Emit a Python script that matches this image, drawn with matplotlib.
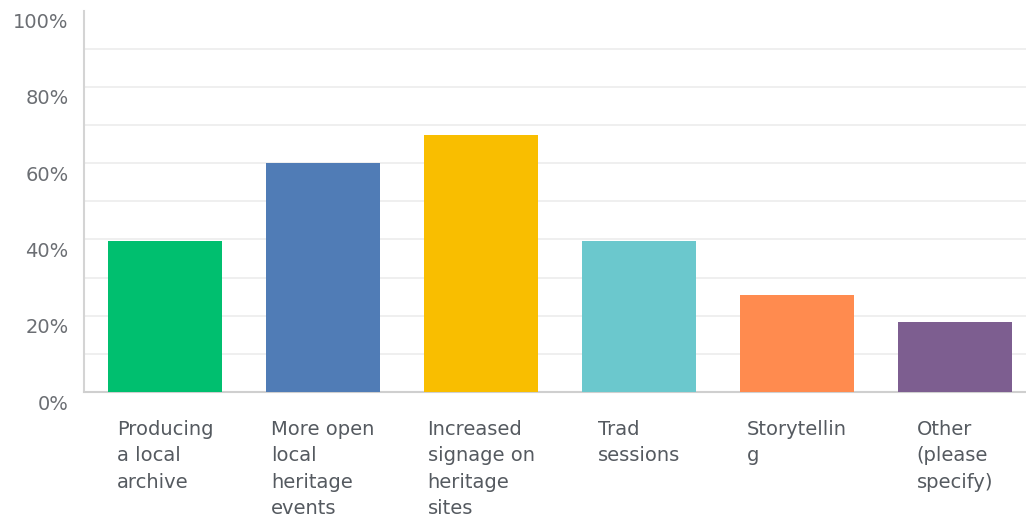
import matplotlib
matplotlib.use("Agg")
import matplotlib.pyplot as plt
from matplotlib.transforms import ScaledTranslation

# Survey answers and share of respondents (%)
categories = [
    "Producing\na local\narchive",
    "More open\nlocal\nheritage\nevents",
    "Increased\nsignage on\nheritage\nsites",
    "Trad\nsessions",
    "Storytellin\ng",
    "Other\n(please\nspecify)",
]
values = [39.5, 60.0, 67.5, 39.5, 25.4, 18.4]
colors = ["#00bf6f", "#507cb6", "#f9be00", "#6bc8cd", "#ff8b4f", "#7d5e90"]
yticks = [0, 20, 40, 60, 80, 100]
ytick_labels = ["0%", "20%", "40%", "60%", "80%", "100%"]

W, H = 1026, 518
fig = plt.figure(figsize=(W / 100, H / 100), dpi=100)
ax = fig.add_axes([84 / W, (H - 392) / H, (1026 - 84) / W, (392 - 10.7) / H])

x = range(len(values))
ax.bar(x, values, width=0.72, color=colors, zorder=3)

ax.set_xlim(-0.513, 5.449)
ax.set_ylim(0, 100)

# light gridlines every 10%
for g in range(10, 100, 10):
    ax.axhline(g, color="#ececec", lw=1.2, zorder=1)

ax.set_yticks(yticks)
ax.set_yticklabels(ytick_labels, fontsize=14, color="#6b6e73")
ax.set_xticks(list(x))
ax.set_xticklabels(categories, fontsize=14, color="#555a60", linespacing=1.5)
ax.tick_params(axis="both", length=0)
ax.tick_params(axis="y", pad=11)
ax.tick_params(axis="x", pad=20)

for lab in ax.get_xticklabels():
    lab.set_multialignment("left")
    lab.set_va("top")

# y labels sit slightly below their gridlines
off = ScaledTranslation(0, -10 / 100, fig.dpi_scale_trans)
for lab in ax.get_yticklabels():
    lab.set_transform(lab.get_transform() + off)

for s in ["top", "right"]:
    ax.spines[s].set_visible(False)
ax.spines["left"].set_color("#d4d4d4")
ax.spines["bottom"].set_color("#cfcfcf")
ax.spines["left"].set_linewidth(1.5)
ax.spines["bottom"].set_linewidth(1.5)

fig.savefig("out.png", dpi=100)
